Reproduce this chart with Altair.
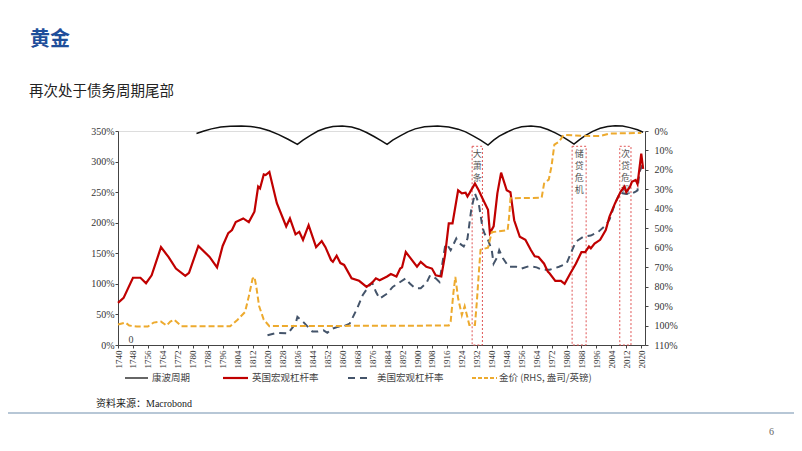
import altair as alt
import pandas as pd

# ---------------- data ----------------
uk_years = [1740, 1743, 1748, 1752, 1755, 1758, 1763, 1767, 1771, 1776, 1778, 1783, 1789, 1793,
            1796, 1799, 1801, 1803, 1807, 1810, 1813, 1815, 1816, 1818, 1819, 1821, 1825, 1830,
            1832, 1835, 1837, 1839, 1842, 1846, 1849, 1851, 1854, 1855, 1857, 1859, 1861, 1865,
            1869, 1873, 1876, 1878, 1880, 1884, 1886, 1889, 1891, 1892, 1894, 1896, 1900, 1902,
            1905, 1908, 1910, 1913, 1915, 1917, 1919, 1922, 1924, 1926, 1927, 1928, 1931, 1933,
            1935, 1938, 1939, 1941, 1943, 1945, 1948, 1950, 1952, 1955, 1958, 1961, 1963, 1965,
            1968, 1970, 1971, 1974, 1977, 1979, 1982, 1985, 1988, 1990, 1992, 1993, 1995, 1998,
            2001, 2003, 2006, 2009, 2011, 2012, 2014, 2015, 2017, 2018, 2020, 2021]
uk_vals = [69, 77, 110, 110, 101, 114, 160, 144, 125, 113, 118, 162, 144, 127,
           162, 183, 188, 201, 207, 201, 218, 259, 256, 279, 278, 283, 232, 194,
           207, 181, 185, 172, 196, 160, 170, 160, 139, 136, 146, 134, 131, 109,
           105, 95, 102, 109, 106, 112, 116, 112, 125, 127, 152, 144, 128, 136,
           128, 125, 114, 112, 147, 199, 199, 253, 248, 249, 243, 248, 264, 253,
           240, 221, 183, 194, 248, 282, 253, 250, 204, 177, 172, 155, 145, 144,
           133, 120, 117, 105, 105, 100, 117, 133, 152, 152, 161, 158, 166, 172,
           188, 210, 232, 251, 259, 250, 259, 267, 270, 263, 313, 288]

us_years = [1820, 1825, 1831, 1835, 1836, 1840, 1844, 1847, 1850, 1852, 1855, 1858, 1861, 1864,
            1868, 1871, 1874, 1876, 1878, 1880, 1884, 1887, 1891, 1894, 1896, 1899, 1902, 1905,
            1907, 1910, 1912, 1915, 1916, 1918, 1921, 1922, 1925, 1927, 1929, 1931, 1933, 1935,
            1936, 1938, 1940, 1941, 1943, 1944, 1946, 1949, 1953, 1956, 1960, 1964, 1967, 1971,
            1976, 1980, 1983, 1985, 1989, 1993, 1997, 2001, 2003, 2006, 2009, 2010, 2012, 2015,
            2017, 2018, 2019, 2021]
us_vals = [16, 20, 19, 35, 46, 35, 22, 22, 24, 20, 27, 30, 31, 35,
           60, 82, 95, 102, 87, 76, 84, 95, 103, 109, 101, 93, 93, 101,
           114, 109, 103, 161, 165, 155, 174, 168, 161, 174, 221, 248, 232, 193,
           183, 172, 155, 133, 144, 155, 142, 128, 128, 125, 129, 127, 123, 123,
           128, 133, 155, 169, 177, 179, 185, 196, 205, 232, 251, 248, 247, 248,
           251, 253, 283, 297]

gold_years = [1740, 1744, 1746, 1750, 1756, 1759, 1763, 1766, 1768, 1770, 1774, 1800, 1804, 1808,
              1810, 1812, 1813, 1814, 1815.5, 1818, 1821, 1917, 1918, 1919.5, 1920.5, 1922, 1924,
              1925.5, 1928, 1931, 1932, 1933, 1934, 1938, 1940, 1948.5, 1949.3, 1950, 1966.7,
              1968, 1970.5, 1972, 1973.5, 1976, 1978.5, 1990, 1998, 2003, 2020]
gold_vals = [99.5, 98.5, 100, 100.5, 100.5, 98.5, 98, 100, 98, 97, 100.4, 100.4, 97, 93,
             85, 76, 75, 80, 90, 97, 100.3, 100, 98, 83, 75, 86, 94.6,
             90, 99.7, 99.7, 88, 74, 61, 60, 52, 51, 44, 34.6, 34.3,
             27, 25, 18, 7, 5.5, 2, 2.5, 2.6, 1.3, 1]

wave_years = [1782, 1786, 1790, 1795, 1800, 1806, 1811, 1816, 1821, 1826, 1831, 1836,
              1839, 1843, 1847, 1851, 1855, 1860, 1865, 1869, 1873, 1877, 1881, 1884,
              1887, 1891, 1895, 1899, 1904, 1911, 1917, 1922, 1926, 1930, 1934, 1938,
              1941, 1944, 1948, 1952, 1956, 1961, 1966, 1970, 1974, 1978, 1981, 1984,
              1987, 1990, 1994, 1998, 2002, 2006, 2010, 2014, 2018, 2021]
wave_vals = [346, 350, 353.5, 356.5, 357.8, 358, 357.3, 355, 350.5, 344, 336.5, 328,
             335, 343, 350, 354.5, 357.3, 358, 356.5, 353, 347.5, 341, 334, 328,
             335, 342, 348.5, 353.5, 357, 358, 356.5, 353, 348.5, 342, 335, 327,
             335, 341.5, 348, 353.5, 357, 358, 356.5, 352.5, 347, 340.5, 334.5, 328.5,
             336, 342.5, 349.5, 354.5, 357.5, 358.5, 358, 355.5, 352, 348]

event_labels = ["大\n萧\n条", "储\n贷\n危\n机", "次\n贷\n危\n机"]
event_start = [1929.5, 1983, 2008.5]
event_end = [1935, 1990.5, 2014.5]
event_top = [325, 325, 325]

legend_labels = ["康波周期", "英国宏观杠杆率", "美国宏观杠杆率", "金价 (RHS, 盎司/英镑)"]
left_ticks = [0, 50, 100, 150, 200, 250, 300, 350]
right_ticks = [0, 10, 20, 30, 40, 50, 60, 70, 80, 90, 100, 110]
x_ticks = list(range(1740, 2021, 8))

title_text = "黄金"
subtitle_text = "再次处于债务周期尾部"
source_text = "资料来源：Macrobond"
page_no = "6"

# ---------------- style ----------------
SERIF = "Liberation Serif"
CJK = "Noto Sans CJK SC"
RED = "#C00000"
NAVY = "#44546A"
GOLD = "#EDAA2E"
W, H = 527, 214

x_scale = alt.Scale(domain=[1740, 2022], nice=False, zero=False)
yl_scale = alt.Scale(domain=[0, 350], nice=False)
yr_scale = alt.Scale(domain=[0, 110], nice=False, reverse=True)

x_axis = alt.Axis(values=x_ticks, labelAngle=270, format="d", labelFont=SERIF, labelFontSize=9,
                  labelColor="#333", tickSize=3, tickColor="#444", domainColor="#444",
                  grid=False, title=None, labelPadding=2, labelOverlap=False)
left_axis = alt.Axis(values=left_ticks, labelExpr="datum.value + '%'", labelFont=SERIF,
                     labelFontSize=10, labelColor="#333", tickSize=3, tickColor="#444",
                     domainColor="#444", grid=False, title=None, labelPadding=1)
right_axis = alt.Axis(orient="right", values=right_ticks, labelExpr="datum.value + '%'",
                      labelFont=SERIF, labelFontSize=10, labelColor="#333", tickSize=3,
                      tickColor="#444", domainColor="#444", grid=False, title=None,
                      labelPadding=6)

uk_df = pd.DataFrame({"year": uk_years, "v": uk_vals})
us_df = pd.DataFrame({"year": us_years, "v": us_vals})
gold_df = pd.DataFrame({"year": gold_years, "v": gold_vals})
wave_df = pd.DataFrame({"year": wave_years, "v": wave_vals})
ev_df = pd.DataFrame({"label": event_labels, "s": event_start, "e": event_end, "top": event_top})
ev_df["mid"] = (ev_df["s"] + ev_df["e"]) / 2
ev_df["bottom"] = 0


def X(field):
    return alt.X(field, scale=x_scale, axis=x_axis)


def YL(field):
    return alt.Y(field, scale=yl_scale, axis=left_axis)


boxes = alt.Chart(ev_df).mark_rect(fillOpacity=0, stroke="#E05555", strokeDash=[2, 2],
                                   strokeWidth=1).encode(
    x=X("s:Q"), x2="e:Q", y=YL("top:Q"), y2="bottom:Q")

box_text = alt.Chart(ev_df).mark_text(lineBreak="\n", baseline="top", fontSize=9, lineHeight=12,
                                      color="#555", font=CJK, dy=4).encode(
    x=X("mid:Q"), y=YL("top:Q"), text="label:N")

wave = alt.Chart(wave_df).mark_line(color="#111", strokeWidth=1.5, clip=False).encode(
    x=X("year:Q"), y=YL("v:Q"))

us = alt.Chart(us_df).mark_line(color=NAVY, strokeWidth=2, strokeDash=[7, 5]).encode(
    x=X("year:Q"), y=YL("v:Q"))

uk = alt.Chart(uk_df).mark_line(color=RED, strokeWidth=2.2).encode(
    x=X("year:Q"), y=YL("v:Q"))

left = alt.layer(boxes, box_text, wave, us, uk)

gold = alt.Chart(gold_df).mark_line(color=GOLD, strokeWidth=2, strokeDash=[6, 3]).encode(
    x=X("year:Q"), y=alt.Y("v:Q", scale=yr_scale, axis=right_axis))

one = pd.DataFrame({"a": [0]})


def label(text, x, y, size, color="#222", font=CJK, weight="normal", align="left"):
    return alt.Chart(pd.DataFrame({"t": [text]})).mark_text(
        fontSize=size, color=color, font=font, fontWeight=weight, align=align,
        baseline="middle").encode(text="t:N", x=alt.value(x), y=alt.value(y))


def seg(x1, x2, y, color, dash=None, width=2.0):
    kw = dict(color=color, strokeWidth=width)
    if dash:
        kw["strokeDash"] = dash
    return alt.Chart(one).mark_rule(**kw).encode(x=alt.value(x1), x2=alt.value(x2), y=alt.value(y))


annots = [
    label(title_text, -88, -91, 20, color="#1F4E9A", weight="bold"),
    label(subtitle_text, -89, -39, 14.5, color="#222"),
    label("0", 13, 209, 10, color="#444", font=SERIF, align="center"),
    seg(7, 30, 247, "#333", width=1.5),
    label(legend_labels[0], 34, 247, 9.5, color="#444"),
    seg(105, 130, 247, RED, width=2.2),
    label(legend_labels[1], 134, 247, 9.5, color="#444"),
    seg(230, 250, 247, NAVY, dash=[7, 5], width=2),
    label(legend_labels[2], 259, 247, 9.5, color="#444"),
    seg(354, 379, 247, GOLD, dash=[4, 2], width=2),
    label(legend_labels[3], 381, 247, 9.5, color="#444"),
    label(source_text, -22, 273, 10, color="#222", font=SERIF + ", " + CJK),
    seg(-118, 676, 282, "#9FB4C8", width=1.5),
    label(page_no, 651, 301, 10, color="#666", font=SERIF),
]

chart = alt.layer(left, gold, *annots).resolve_scale(y="independent").properties(
    width=W, height=H, padding={"left": 110, "top": 123, "right": 149, "bottom": 98},
    autosize=alt.AutoSizeParams(type="none"),
).configure_view(stroke=None).configure(background="white")

chart.save("out.html", embed_options={"renderer": "svg", "actions": False})
